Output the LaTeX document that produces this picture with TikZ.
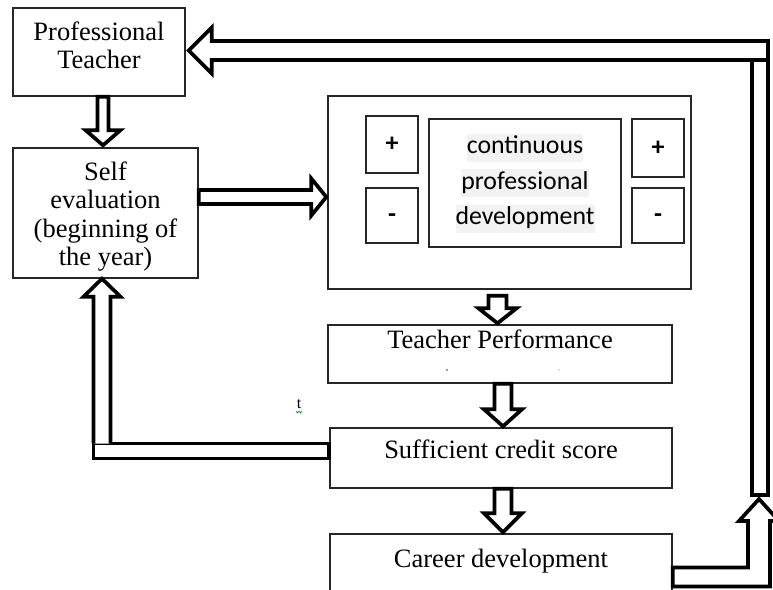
\documentclass[tikz,border=0pt]{standalone}
\usepackage{fontspec}
\setmainfont{Liberation Serif}
\newfontfamily\calib{Carlito}
\usetikzlibrary{calc}
\definecolor{hl}{HTML}{F2F2F2}
\setlength{\fboxsep}{0pt}
% one highlighted line of the sans-serif block
\newcommand\hlline[1]{\colorbox{hl}{\rule[-8pt]{0pt}{28pt}#1}}

\begin{document}
\begin{tikzpicture}[x=1pt,y=-1pt,
  box/.style={draw=black!85, line width=1.4pt, inner sep=0pt},
  sfont/.style={font=\fontsize{26.5}{28.5}\selectfont},
  serif/.style={sfont, align=center},
  sym/.style={box, minimum width=52pt, font=\calib\bfseries\fontsize{26}{26}\selectfont,
              text height=14.5pt, text depth=0pt},
  blk/.style={draw=black, line width=3.7pt, fill=white, line join=miter, miter limit=10},
]
\useasboundingbox (0,0) rectangle (773,589);
\clip (0,0) rectangle (773,589);

% boxes
\node[box, minimum width=172pt, minimum height=88pt,
      label={[serif, yshift=6.8pt]center:Professional\\Teacher}] (pt) at (99,52) {};
\node[box, minimum width=185pt, minimum height=130pt,
      label={[serif, yshift=-3.6pt]center:Self\\evaluation\\(beginning of\\the year)}] (se) at (105.5,213) {};

\node[box, minimum width=363pt, minimum height=193pt] (big) at (509.5,192.5) {};
\node[sym, minimum height=57pt] (lp) at (392,144.5) {+};
\node[sym, minimum height=55pt] (lm) at (392,215.5) {-};
\node[box, minimum width=192pt, minimum height=128pt, align=center,
      font=\calib\fontsize{25.8}{35.5}\selectfont] (cpd) at (525,183)
      {\hlline{continuous}\\\hlline{professional}\\\hlline{development}};
\node[sym, minimum height=58pt] (rp) at (658,148) {+};
\node[sym, minimum height=55pt] (rm) at (658,215.5) {-};

\node[box, sfont, minimum width=344pt, text height=23pt, text depth=35pt, anchor=base]
      (tp) at (500,348) {Teacher Performance};
\fill[black!80] (447,370) circle (0.9pt);
\fill[black!60] (559,370) circle (0.7pt);
\node[box, sfont, minimum width=342pt, text height=30.3pt, text depth=29.7pt, anchor=base]
      (scs) at (501,458.3) {Sufficient credit score};
\node[box, sfont, minimum width=342pt, text height=33pt, text depth=53pt, anchor=base]
      (cd) at (501,567) {Career development};

\node[font=\fontsize{16}{16}\selectfont, inner sep=0pt] (stray) at (299,404) {t};
\draw[green!55!black, line width=0.6pt] (296,411) -- (297.5,413) -- (299,411) -- (300.5,413) -- (302,411);

\coordinate (uptip) at (759,499);

% block arrows
\draw[blk] let \p1=([xshift=4pt]pt.south), \p2=(se.north) in
  (\x1-5.5pt,\y1) -- (\x1-5.5pt,\y2+17pt) -- (\x1-17.3pt,\y2+17pt) -- (\x1,\y2+2pt)
  -- (\x1+17.3pt,\y2+17pt) -- (\x1+5.5pt,\y2+17pt) -- (\x1+5.5pt,\y1) -- cycle;

\draw[blk] let \p1=([yshift=16pt]se.east), \p2=(big.west) in
  (\x1,\y1+7pt) -- (\x2-16pt,\y1+7pt) -- (\x2-16pt,\y1+18.5pt) -- (\x2-1pt,\y1)
  -- (\x2-16pt,\y1-18.5pt) -- (\x2-16pt,\y1-7pt) -- (\x1,\y1-7pt) -- cycle;

\draw[blk] let \p1=([xshift=-12pt,yshift=-6pt]big.south), \p2=(tp.north) in
  (\x1-9pt,\y1) -- (\x1-9pt,\y2+16pt) -- (\x1-19pt,\y2+16pt) -- (\x1,\y2+1pt)
  -- (\x1+19pt,\y2+16pt) -- (\x1+9pt,\y2+16pt) -- (\x1+9pt,\y1) -- cycle;

\draw[blk] let \p1=([xshift=3pt]tp.south), \p2=(scs.north) in
  (\x1-8.5pt,\y1) -- (\x1-8.5pt,\y2+18pt) -- (\x1-19pt,\y2+18pt) -- (\x1,\y2+1pt)
  -- (\x1+19pt,\y2+18pt) -- (\x1+8.5pt,\y2+18pt) -- (\x1+8.5pt,\y1) -- cycle;

\draw[blk] let \p1=([xshift=2pt]scs.south), \p2=(cd.north) in
  (\x1-8.5pt,\y1) -- (\x1-8.5pt,\y2+20pt) -- (\x1-19pt,\y2+20pt) -- (\x1,\y2+1pt)
  -- (\x1+19pt,\y2+20pt) -- (\x1+8.5pt,\y2+20pt) -- (\x1+8.5pt,\y1) -- cycle;

% feedback from the credit score back to self evaluation
\draw[blk] let \p1=([yshift=7pt]scs.west), \p2=([xshift=-3.5pt]se.south) in
  (\x1,\y1+7.5pt) rectangle (\x2-8.5pt,\y1-7.5pt);
\draw[blk] let \p1=([yshift=7pt]scs.west), \p2=([xshift=-3.5pt]se.south) in
  (\x2-8.5pt,\y1+7.5pt) -- (\x2-8.5pt,\y2-18pt) -- (\x2-18.5pt,\y2-18pt) -- (\x2,\y2)
  -- (\x2+18.5pt,\y2-18pt) -- (\x2+8.5pt,\y2-18pt) -- (\x2+8.5pt,\y1+7.5pt);

% loop from career development back to the professional teacher
\draw[blk] let \p1=(cd.east), \p2=(uptip) in
  (\x1,\y1+9.5pt) -- (\x2-11pt,\y1+9.5pt) -- (\x2-11pt,\y2-22pt) -- (\x2-20pt,\y2-22pt)
  -- (\x2,\y2) -- (\x2+20pt,\y2-22pt) -- (\x2+11pt,\y2-22pt) -- (\x2+11pt,\y1-9.5pt)
  -- (\x1,\y1-9.5pt) -- cycle;
\draw[blk] let \p2=(uptip), \p3=([yshift=1.5pt]pt.east) in
  (\x2-7pt,\y2+4pt) rectangle (\x2+9pt,\y3-9.5pt);
\draw[blk] let \p2=(uptip), \p3=([yshift=1.5pt]pt.east) in
  (\x2+9pt,\y3-9.5pt) -- (\x2+9pt,\y3+9.5pt) -- (\x3+26pt,\y3+9.5pt) -- (\x3+26pt,\y3+23pt)
  -- (\x3+3pt,\y3) -- (\x3+26pt,\y3-23pt) -- (\x3+26pt,\y3-9.5pt) -- cycle;
\end{tikzpicture}
\end{document}
